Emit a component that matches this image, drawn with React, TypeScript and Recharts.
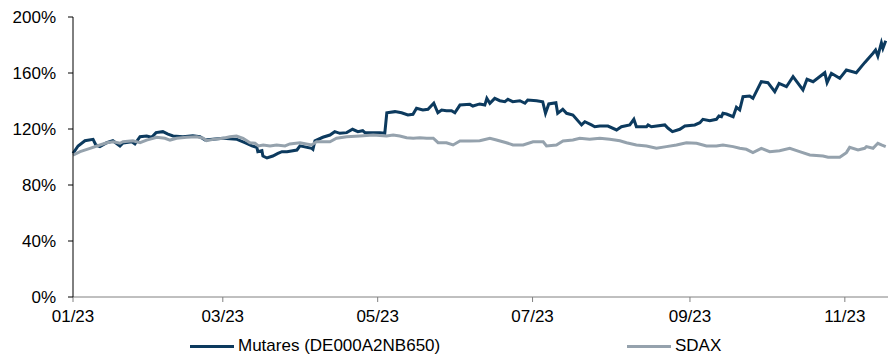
import React from "react";
import { LineChart, Line, XAxis, YAxis, Legend } from "recharts";

const seriesNames = ["Mutares (DE000A2NB650)", "SDAX"];
const seriesColors = ["#0c3a5e", "#95a2ad"];
const legendLeft = [190, 627];

// x axis: days since 1 Jan 2023
const xTickDays = [0, 59, 120, 181, 243, 304];
const xTickLabels = ["01/23", "03/23", "05/23", "07/23", "09/23", "11/23"];
const yTicks = [0, 40, 80, 120, 160, 200];

const mutaresDays = [
  0, 2, 4.7, 7.9, 9, 10.6, 13.3, 15.7, 18.5, 19.7,
  23.2, 24.4, 26.4, 29, 31, 32.7, 35.4, 37.4, 39.4, 43.3,
  47.2, 50, 52, 55, 59, 64.6, 67.7, 70.5, 72.4, 72.8,
  74.4, 74.8, 76.4, 78.7, 80.7, 82.3, 84.3, 88.2, 89.4, 94,
  94.5, 95.3, 98.4, 101.2, 103.1, 105.1, 107.8, 110.1, 112.2, 114.1,
  115, 117.6, 120.9, 122.8, 123.6, 126.8, 129.4, 131.9, 133.9, 135.3,
  137.8, 139.8, 142.1, 143.7, 145.2, 147.1, 149.1, 150.4, 152.4, 156.3,
  157.5, 160.2, 162.2, 163, 164.2, 166.1, 168.1, 170.1, 171.3, 173.2,
  176, 178, 179.1, 182.6, 185, 186.1, 187.4, 190.2, 190.9, 192.9,
  194.4, 196.9, 200.3, 201.6, 204.2, 205.5, 207.5, 210.7, 214.1, 216,
  219.3, 220.9, 221.9, 225.9, 226.5, 227.8, 233.1, 234.4, 236.1, 239,
  241, 244.9, 246.9, 248.1, 250.8, 253.4, 254.4, 255.4, 256, 257.4,
  260, 261.3, 262.6, 263.9, 266.5, 267.8, 271.1, 273.7, 276.4, 278.1,
  281, 283.6, 287.5, 289.1, 291.5, 296.1, 297, 298.7, 302, 304.6,
  308.5, 311.8, 315.1, 316.1, 317, 318.4, 319, 320.1,
];
const mutaresValues = [
  102.6, 107.9, 111.6, 112.6, 108.6, 107.4, 110.2, 111.6, 107.9, 110,
  110.9, 109.3, 114.5, 115, 114.1, 117.4, 118.1, 116.4, 115, 114.5,
  115.2, 114.5, 112.1, 112.6, 113.4, 112.6, 110.2, 107.9, 106.9, 103.8,
  104.5, 100.7, 99.3, 100.7, 102.6, 103.8, 103.8, 105, 108, 106.2,
  105.5, 111.6, 114.1, 115.7, 118.1, 116.9, 117.4, 119.8, 118.1, 118.8,
  117.4, 117.4, 117.4, 116.9, 131.6, 132.4, 131.6, 130, 130.5, 134.8,
  133.6, 134.1, 138.4, 131.6, 133.6, 133.1, 133.1, 131.6, 137.1, 137.6,
  136.4, 137.9, 137.1, 141.9, 138.4, 141.9, 140.2, 139.5, 141.2, 139.5,
  140.2, 138.4, 140.7, 140.2, 139.5, 131.2, 137.9, 138.8, 131.2, 134.1,
  131.2, 130, 122.9, 125.2, 122.9, 121.6, 122.1, 122.1, 119.3, 121.6,
  122.9, 126.9, 121.6, 121.6, 122.9, 121.6, 122.9, 120.5, 118.1, 119.8,
  122.1, 122.9, 124.5, 126.9, 125.9, 126.9, 129.3, 128.8, 131.2, 130.7,
  128.8, 135.5, 133.6, 143.1, 143.6, 141.9, 153.8, 153.1, 146.6, 152.6,
  150.2, 157.4, 147.9, 155.5, 153.8, 160.2, 153.1, 159.8, 156.2, 162.1,
  160.2, 167.4, 174.1, 176.4, 172.1, 181.6, 177.6, 183.1,
];

const sdaxDays = [
  0, 2.8, 6.7, 10.6, 13.3, 15.9, 18.5, 19.7, 23.6, 26.4,
  29, 33, 36.2, 38.2, 40.8, 44.8, 48.7, 51.3, 52.6, 55.2,
  59.2, 61.8, 64.4, 67, 69.7, 71.7, 73, 74.9, 77.6, 80.2,
  83.5, 85.4, 89.4, 94, 95.9, 101.2, 103.8, 107.8, 113, 118.2,
  123.5, 126.1, 128.7, 131.4, 134, 136.6, 139.3, 141.9, 143.8, 147.1,
  149.7, 152.4, 156.3, 160.2, 164.2, 166.8, 170.7, 173.3, 177.3, 181.2,
  185.2, 186.5, 190.4, 193, 196.9, 199.6, 203.5, 207.5, 211.4, 215.4,
  218, 221.9, 225.9, 229.8, 233.7, 237.7, 241.6, 245.6, 249.5, 253.4,
  256, 260, 262.6, 265.2, 267.8, 271.1, 274.4, 278.3, 282.3, 286.2,
  290.2, 295.4, 297.4, 302, 304.6, 305.9, 309.2, 311.8, 312.5, 315.1,
  317, 318.4, 320.1,
];
const sdaxValues = [
  101.4, 103.8, 106.2, 108.6, 110.2, 110.9, 109.8, 110.9, 111.6, 110.2,
  112.1, 114.1, 113.4, 112.1, 113.4, 114.1, 114.5, 113.4, 111.6, 112.6,
  113.4, 114.5, 115, 113.4, 110.2, 109.8, 107.9, 108.6, 107.9, 108.6,
  107.9, 109.3, 110.2, 108.6, 110.9, 110.9, 113.4, 114.5, 115, 115.7,
  115, 115.7, 115, 113.8, 113.4, 113.8, 113.4, 113.4, 110.2, 110.2,
  108.6, 111.4, 111.4, 111.6, 113.4, 112.1, 110.2, 108.6, 108.6, 110.9,
  110.9, 107.9, 108.6, 111.4, 112.1, 113.4, 112.6, 113.4, 112.6, 111.6,
  110.2, 108.6, 107.9, 106.2, 107.4, 108.6, 110.2, 109.8, 107.9, 107.9,
  108.6, 107.4, 106.2, 105.5, 103.1, 106.2, 103.8, 104.5, 106.2, 103.8,
  101.4, 100.7, 99.8, 99.8, 103.1, 106.9, 105, 106.2, 107.4, 106.2,
  109.8, 108.6, 107.4,
];

const toRows = (days: number[], values: number[]) =>
  days.map((day, i) => ({ day, value: values[i] }));

const mutaresData = toRows(mutaresDays, mutaresValues);
const sdaxData = toRows(sdaxDays, sdaxValues);

const FONT = "'Liberation Sans', Arial, sans-serif";

const renderLegend = () => (
  <div style={{ position: "relative", width: 896, height: 30, fontFamily: FONT }}>
    {seriesNames.map((name, i) => (
      <div
        key={name}
        style={{
          position: "absolute",
          left: legendLeft[i],
          top: 7,
          height: 20,
          display: "flex",
          alignItems: "center",
          whiteSpace: "nowrap",
        }}
      >
        <span
          style={{
            display: "inline-block",
            width: 44,
            height: 3,
            background: seriesColors[i],
            marginRight: 4,
          }}
        />
        <span style={{ fontSize: 17, color: "#000" }}>{name}</span>
      </div>
    ))}
  </div>
);

export default function App() {
  return (
    <div
      style={{
        position: "absolute",
        left: 0,
        top: 0,
        width: 896,
        height: 359,
        background: "#fff",
        fontFamily: FONT,
      }}
    >
      <LineChart
        width={896}
        height={359}
        margin={{ top: 17, right: 8, left: 0, bottom: 0 }}
      >
        <XAxis
          dataKey='day'
          type='number'
          domain={[0, 321]}
          ticks={xTickDays}
          tickFormatter={(v: number) => xTickLabels[xTickDays.indexOf(v)]}
          height={32}
          stroke='#808080'
          tickSize={5}
          tickMargin={8}
          tick={{ fontSize: 17, fill: "#000", fontFamily: FONT }}
          interval={0}
        />
        <YAxis
          type='number'
          domain={[0, 200]}
          ticks={yTicks}
          tickFormatter={(v: number) => `${v}%`}
          width={73}
          stroke='#000'
          tickSize={5}
          tickMargin={12}
          tick={{ fontSize: 17, fill: "#000", fontFamily: FONT }}
          interval={0}
        />
        <Legend
          verticalAlign='bottom'
          height={30}
          wrapperStyle={{ left: 0 }}
          content={renderLegend}
        />
        <Line
          data={mutaresData}
          dataKey='value'
          name={seriesNames[0]}
          stroke={seriesColors[0]}
          strokeWidth={3}
          dot={false}
          activeDot={false}
          isAnimationActive={false}
        />
        <Line
          data={sdaxData}
          dataKey='value'
          name={seriesNames[1]}
          stroke={seriesColors[1]}
          strokeWidth={3}
          dot={false}
          activeDot={false}
          isAnimationActive={false}
        />
      </LineChart>
    </div>
  );
}
